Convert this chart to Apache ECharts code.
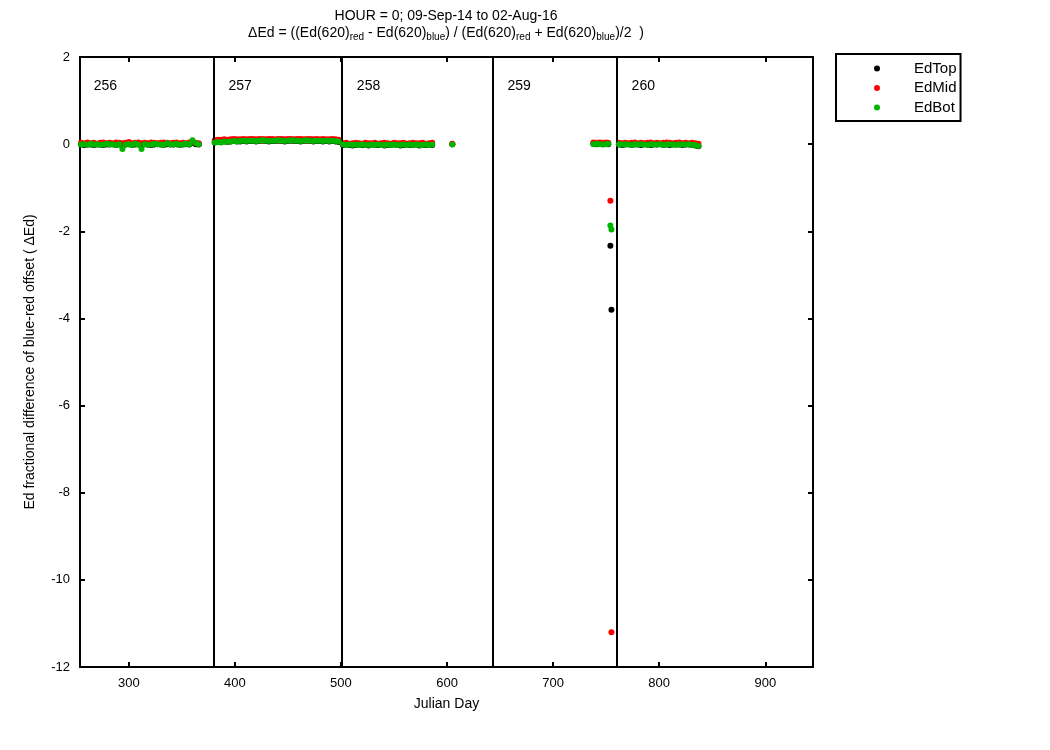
<!DOCTYPE html>
<html>
<head>
<meta charset="utf-8">
<script src="https://cdn.jsdelivr.net/npm/echarts@6/dist/echarts.min.js"></script>
<style>html,body{margin:0;padding:0;background:#fff}#c{width:1050px;height:750px}</style>
</head>
<body>
<div id="c"></div>
<script>
// ---- data ----
const days = [
  255,258,261,264,267,270,273,276,279,282,285,288,291,294,297,300,303,306,309,312,315,318,321,324,327,330,333,336,339,342,345,348,351,354,357,360,363,366,
  381,384,387,390,393,396,399,402,405,408,411,414,417,420,423,426,429,432,435,438,441,444,447,450,453,456,459,462,465,468,471,474,477,480,483,486,489,492,495,498,
  502,505,508,511,514,517,520,523,526,529,532,535,538,541,544,547,550,553,556,559,562,565,568,571,574,577,580,583,586,605,
  738,741,744,747,750,752,754,755,
  762,765,768,771,774,777,780,783,786,789,792,795,798,801,804,807,810,813,816,819,822,825,828,831,834,837
];
const edTop = [
  -0.01,-0.02,0,-0.01,-0.02,-0.01,0,-0.02,-0.01,-0.01,0,-0.02,-0.01,-0.03,-0.01,0,-0.02,-0.01,-0.01,-0.02,0,-0.01,-0.02,-0.01,0,-0.01,-0.02,0,-0.01,-0.01,0,-0.02,-0.01,0,-0.01,0.03,0,-0.01,
  0.04,0.05,0.05,0.06,0.05,0.06,0.07,0.06,0.06,0.07,0.06,0.07,0.07,0.06,0.07,0.08,0.07,0.06,0.07,0.07,0.08,0.07,0.06,0.07,0.08,0.07,0.07,0.06,0.07,0.08,0.07,0.06,0.07,0.07,0.06,0.07,0.06,0.07,0.06,0.05,
  -0.02,-0.01,-0.02,-0.03,-0.02,-0.01,-0.02,-0.02,-0.03,-0.01,-0.02,-0.02,-0.01,-0.03,-0.02,-0.02,-0.01,-0.02,-0.03,-0.02,-0.01,-0.02,-0.02,-0.01,-0.03,-0.02,-0.02,-0.01,-0.02,0,
  0.01,0,0.01,0,0.01,0,-2.33,-3.8,
  -0.01,-0.02,-0.01,0,-0.02,-0.01,-0.01,-0.02,0,-0.01,-0.02,-0.01,-0.01,0,-0.02,-0.01,-0.02,-0.01,0,-0.01,-0.02,-0.01,-0.01,-0.02,-0.03,-0.05
];
const edMid = [
  0.03,0.02,0.04,0.02,0.03,0.01,0.03,0.04,0.02,0.03,0.02,0.04,0.03,0.02,0.03,0.05,0.02,0.03,0.04,0.02,0.03,0.02,0.04,0.03,0.02,0.03,0.04,0.03,0.02,0.03,0.04,0.02,0.03,0.02,0.04,0.05,0.03,0.02,
  0.09,0.1,0.1,0.11,0.1,0.11,0.12,0.11,0.11,0.12,0.11,0.12,0.12,0.11,0.12,0.12,0.11,0.12,0.12,0.11,0.12,0.12,0.11,0.12,0.12,0.11,0.12,0.12,0.11,0.12,0.12,0.11,0.12,0.11,0.12,0.11,0.11,0.12,0.11,0.1,
  0.02,0.03,0.01,0.02,0.03,0.02,0.01,0.03,0.02,0.02,0.03,0.01,0.02,0.03,0.02,0.01,0.03,0.02,0.02,0.03,0.01,0.02,0.03,0.02,0.02,0.03,0.01,0.02,0.03,0.01,
  0.04,0.03,0.04,0.03,0.04,0.03,-1.3,-11.2,
  0.03,0.02,0.03,0.02,0.03,0.04,0.02,0.03,0.02,0.03,0.04,0.02,0.03,0.02,0.03,0.04,0.03,0.02,0.03,0.04,0.02,0.03,0.02,0.03,0.02,0.01
];
const edBot = [
  -0.01,0.0,-0.02,0.01,-0.01,0.0,-0.02,-0.01,0.01,0.0,-0.01,-0.02,0.0,-0.11,-0.01,0.0,-0.02,0.01,-0.01,-0.11,0.0,-0.02,-0.01,0.01,0.0,-0.01,-0.02,0.02,0.0,-0.01,0.01,-0.02,0.0,0.01,-0.01,0.09,0.02,0.0,
  0.04,0.05,0.04,0.06,0.05,0.06,0.07,0.06,0.07,0.08,0.07,0.08,0.08,0.07,0.08,0.09,0.08,0.07,0.08,0.08,0.09,0.08,0.07,0.08,0.09,0.08,0.08,0.07,0.08,0.09,0.08,0.07,0.08,0.08,0.07,0.08,0.07,0.08,0.07,0.06,
  -0.01,-0.02,-0.01,-0.02,-0.01,-0.02,-0.01,-0.02,-0.02,-0.01,-0.02,-0.01,-0.02,-0.02,-0.01,-0.02,-0.01,-0.02,-0.02,-0.01,-0.02,-0.01,-0.02,-0.01,-0.02,-0.02,-0.01,-0.02,-0.01,-0.01,
  0,0.01,0,-0.01,0,0.01,-1.87,-1.96,
  0,-0.01,0,-0.01,-0.02,0,-0.01,0,-0.01,-0.02,0,-0.01,-0.01,0,-0.02,-0.01,0,-0.01,-0.02,0,-0.01,-0.01,0,-0.02,-0.02,-0.04
];
const seriesNames = ['EdTop', 'EdMid', 'EdBot'];
const dividerDays = [380, 501, 643, 760];
const segmentNames = ['256', '257', '258', '259', '260'];
const segmentLabelDays = [267, 394, 515, 657, 774];
const segmentLabelValue = 1.33;
const xTicks = [300, 400, 500, 600, 700, 800, 900];
const xMin = 254, xMax = 945, yMin = -12, yMax = 2;

// ---- chart ----
const FONT = 'Liberation Sans, Arial, sans-serif';
const colors = ['#000000', '#ff0000', '#00b400'];
const valueSets = [edTop, edMid, edBot];
const pts = vals => days.map((d, i) => [d, vals[i]]).filter(p => p[1] !== null);

const axisCommon = {
  axisLine: { show: true, onZero: false, lineStyle: { color: '#000', width: 2 } },
  axisTick: { show: true, inside: true, length: 5, lineStyle: { color: '#000', width: 2 } },
  splitLine: { show: false }
};

const series = seriesNames.map((n, k) => ({
  name: n, type: 'scatter', symbol: 'circle', symbolSize: 6,
  itemStyle: { color: colors[k], opacity: 1 }, data: pts(valueSets[k]), z: 3 + k,
  silent: true, animation: false
}));
series.push({
  name: 'segments', type: 'scatter', symbolSize: 0, animation: false, silent: true,
  itemStyle: { opacity: 1 },
  data: segmentLabelDays.map((d, i) => ({ name: segmentNames[i], value: [d, segmentLabelValue] })),
  label: { show: true, position: 'inside', align: 'left', verticalAlign: 'middle', formatter: p => p.name,
           fontFamily: FONT, fontSize: 14, color: '#000' },
  markLine: {
    silent: true, symbol: ['none', 'none'], animation: false,
    label: { show: false },
    lineStyle: { color: '#000', width: 2, type: 'solid', opacity: 1 },
    data: dividerDays.map(d => ({ xAxis: d }))
  }
});

const chart = echarts.init(document.getElementById('c'), null, { renderer: 'canvas' });
chart.setOption({
  backgroundColor: '#fff',
  animation: false,
  title: {
    left: 446, top: 9, textAlign: 'center', padding: 0, itemGap: 2,
    text: 'HOUR = 0; 09-Sep-14 to 02-Aug-16',
    textStyle: { fontFamily: FONT, fontSize: 14, fontWeight: 'normal', color: '#000' },
    subtext: '{n|ΔEd = ((Ed(620)}{s|red}{n| - Ed(620)}{s|blue}{n|) / (Ed(620)}{s|red}{n| + Ed(620)}{s|blue}{n|)/2  )}',
    subtextStyle: {
      color: '#000',
      rich: {
        n: { fontFamily: FONT, fontSize: 14, color: '#000', lineHeight: 16 },
        s: { fontFamily: FONT, fontSize: 10, color: '#000', lineHeight: 16, padding: [9, 0, 0, 0] }
      }
    }
  },
  legend: {
    data: seriesNames, orient: 'vertical', left: 836, top: 54,
    backgroundColor: '#fff', borderColor: '#000', borderWidth: 2, borderRadius: 0,
    padding: [6, 4, 5, 38], itemGap: 2.5, itemWidth: 6, itemHeight: 6, icon: 'circle',
    textStyle: { fontFamily: FONT, fontSize: 15, color: '#000', lineHeight: 17, padding: [0, 0, 0, 29] },
    selectedMode: false
  },
  grid: { left: 80, top: 57, right: 237, bottom: 83, containLabel: false },
  xAxis: [
    Object.assign({}, axisCommon, {
      type: 'value', min: xMin, max: xMax, position: 'bottom',
      name: 'Julian Day', nameLocation: 'middle', nameGap: 30,
      nameTextStyle: { fontFamily: FONT, fontSize: 14, color: '#000' },
      axisTick: Object.assign({}, axisCommon.axisTick, { customValues: xTicks }),
      axisLabel: { customValues: xTicks, fontFamily: 'Liberation Sans Narrow, ' + FONT, fontSize: 13, color: '#000', margin: 10 }
    }),
    Object.assign({}, axisCommon, {
      type: 'value', min: xMin, max: xMax, position: 'top',
      axisTick: Object.assign({}, axisCommon.axisTick, { customValues: xTicks }),
      axisLabel: { show: false }
    })
  ],
  yAxis: [
    Object.assign({}, axisCommon, {
      type: 'value', min: yMin, max: yMax, interval: 2, position: 'left',
      name: 'Ed fractional difference of blue-red offset ( ΔEd)', nameLocation: 'middle', nameGap: 43,
      nameTextStyle: { fontFamily: FONT, fontSize: 14, color: '#000' },
      axisLabel: { fontFamily: 'Liberation Sans Narrow, ' + FONT, fontSize: 13, color: '#000', margin: 10 }
    }),
    Object.assign({}, axisCommon, {
      type: 'value', min: yMin, max: yMax, interval: 2, position: 'right',
      axisLabel: { show: false }
    })
  ],
  series: series
});
</script>
</body>
</html>
